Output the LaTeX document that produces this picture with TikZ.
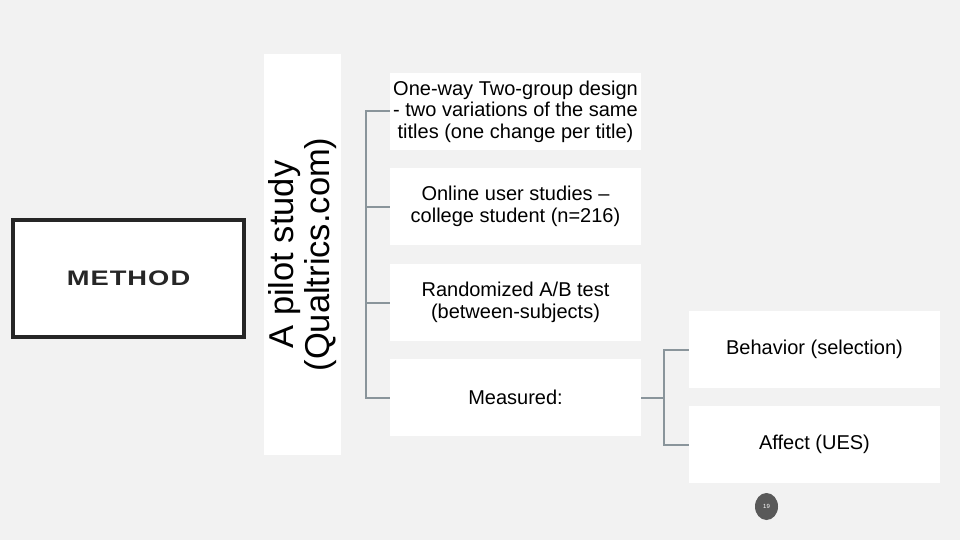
\documentclass[tikz,border=0pt]{standalone}
\usepackage{fontspec}
\setmainfont{Liberation Sans}
\usetikzlibrary{shapes.geometric}
\definecolor{bg}{HTML}{F2F2F2}
\definecolor{conn}{HTML}{8A959B}
\definecolor{frame}{HTML}{262626}
\definecolor{pgc}{HTML}{595959}
\tikzset{
  wbox/.style={fill=white, draw=none, minimum width=251pt, minimum height=77pt, inner sep=0pt, align=center, font=\fontsize{20}{21.5}\selectfont},
  connline/.style={draw=conn, line width=2pt},
  methodbox/.style={fill=white, draw=frame, line width=3.6pt, minimum width=231.5pt, minimum height=117pt, inner sep=0pt, text=frame},
}
\begin{document}
\begin{tikzpicture}[x=1pt,y=-1pt]
\fill[bg] (0,0) rectangle (960,540);
\useasboundingbox (0,0) rectangle (960,540);

\node[methodbox] (method) at (128.5,278.5) {\scalebox{1.3}[1]{\fontsize{21}{22}\selectfont\bfseries M\kern0.8pt E\kern0.8pt T\kern0.8pt H\kern0.8pt O\kern0.8pt D}};

\node[fill=white, minimum width=401pt, minimum height=77pt, inner sep=0pt, rotate=90, align=center, font=\fontsize{34.5}{36}\selectfont] (pilot) at (302.5,254.5) {A pilot study\\(Qualtrics.com)};

\node[wbox] (b1) at (515.5,111.5) {One-way Two-group design\\- two variations of the same\\titles (one change per title)};
\node[wbox] (b2) at (515.5,206.5) {Online user studies --\\college student (n=216)};
\node[wbox] (b3) at (515.5,302.5) {Randomized A/B test\\(between-subjects)};
\node[wbox] (b4) at (515.5,397.5) {Measured:};
\node[wbox] (b5) at (814.5,349.5) {Behavior (selection)};
\node[wbox] (b6) at (814.5,444.5) {Affect (UES)};

\draw[connline] (b1.west) -- ++(-24,0) |- (b4.west);
\draw[connline] (b2.west) -- ++(-24,0);
\draw[connline] (b3.west) -- ++(-24,0);
\draw[connline] (b4.east) -- ++(23,0);
\draw[connline] (b5.west) -- ++(-25,0) |- (b6.west);

\node[ellipse, fill=pgc, minimum width=23pt, minimum height=27pt, inner sep=0pt, text=white, font=\fontsize{6}{6}\selectfont] (pg) at (766.5,506.5) {19};
\end{tikzpicture}
\end{document}
